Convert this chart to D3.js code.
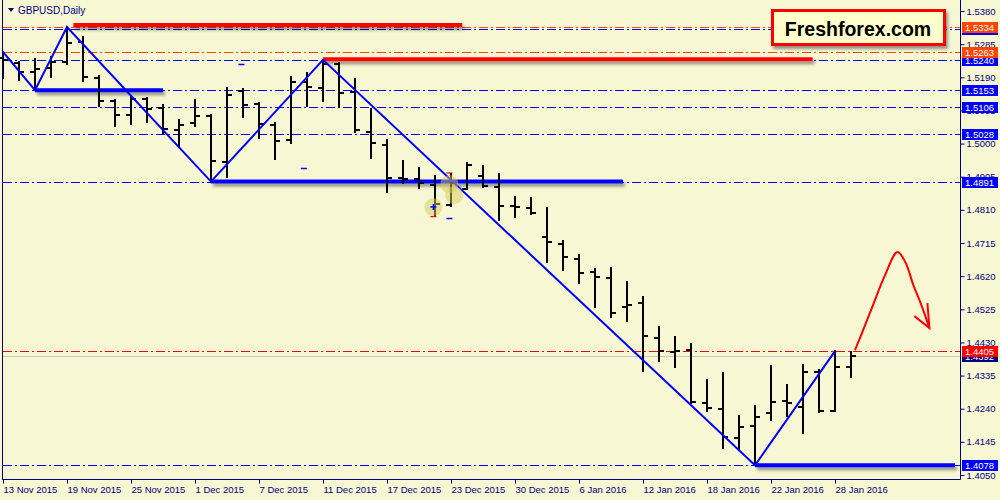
<!DOCTYPE html>
<html><head><meta charset="utf-8">
<script src="https://cdn.jsdelivr.net/npm/d3@7"></script>
<style>
html,body{margin:0;padding:0;background:#f7f7d3;}
svg{display:block;font-family:"Liberation Sans",Arial,sans-serif;}
</style></head><body>
<svg id="c" width="1000" height="500"></svg>
<script>
// ---------- data ----------
const dates = ["2015-11-13","2015-11-16","2015-11-17","2015-11-18","2015-11-19","2015-11-20","2015-11-23","2015-11-24","2015-11-25","2015-11-26","2015-11-27","2015-11-30",
"2015-12-01","2015-12-02","2015-12-03","2015-12-04","2015-12-07","2015-12-08","2015-12-09","2015-12-10","2015-12-11","2015-12-14","2015-12-15","2015-12-16","2015-12-17","2015-12-18","2015-12-21","2015-12-22","2015-12-23","2015-12-24","2015-12-28","2015-12-29","2015-12-30","2015-12-31",
"2016-01-04","2016-01-05","2016-01-06","2016-01-07","2016-01-08","2016-01-11","2016-01-12","2016-01-13","2016-01-14","2016-01-15","2016-01-18","2016-01-19","2016-01-20","2016-01-21","2016-01-22","2016-01-25","2016-01-26","2016-01-27","2016-01-28","2016-01-29"];
const open  = [1.5245,1.5231,1.5205,1.5217,1.5234,1.5291,1.5188,1.5122,1.5082,1.5128,1.5102,1.5039,1.5059,1.5079,1.4947,1.5151,1.5113,1.5053,1.5010,1.5176,1.5159,1.5228,1.5148,1.5033,1.4996,1.4901,1.4898,1.4881,1.4824,1.4870,1.4907,1.4875,1.4821,1.4815,1.4732,1.4712,1.4669,1.4632,1.4615,1.4531,1.4543,1.4442,1.4402,1.4408,1.4256,1.4239,1.4156,1.4190,1.4227,1.4262,1.4245,1.4345,1.4233,1.4359];
const high  = [1.5263,1.5234,1.5242,1.5248,1.5334,1.5305,1.5194,1.5125,1.5136,1.5131,1.5111,1.5068,1.5125,1.5082,1.5159,1.5156,1.5116,1.5059,1.5191,1.5202,1.5240,1.5231,1.5185,1.5099,1.5010,1.4950,1.4930,1.4907,1.4913,1.4944,1.4936,1.4913,1.4847,1.4844,1.4815,1.4721,1.4680,1.4640,1.4643,1.4603,1.4560,1.4474,1.4445,1.4425,1.4322,1.4342,1.4219,1.4248,1.4362,1.4308,1.4365,1.4351,1.4405,1.4402];
const low   = [1.5188,1.5182,1.5153,1.5191,1.5228,1.5179,1.5108,1.5050,1.5056,1.5062,1.5030,1.4990,1.5050,1.4891,1.4904,1.5076,1.5016,1.4956,1.5002,1.5108,1.5122,1.5105,1.5033,1.4959,1.4861,1.4887,1.4873,1.4792,1.4821,1.4870,1.4875,1.4781,1.4789,1.4798,1.4660,1.4637,1.4600,1.4531,1.4503,1.4491,1.4348,1.4377,1.4359,1.4256,1.4233,1.4127,1.4121,1.4078,1.4207,1.4219,1.4170,1.4230,1.4233,1.4331];
const close = [1.5240,1.5205,1.5214,1.5234,1.5288,1.5191,1.5122,1.5082,1.5128,1.5099,1.5042,1.5053,1.5079,1.4950,1.5139,1.5111,1.5056,1.5007,1.5176,1.5162,1.5228,1.5145,1.5039,1.5002,1.4901,1.4898,1.4887,1.4827,1.4887,1.4938,1.4878,1.4821,1.4818,1.4801,1.4718,1.4675,1.4629,1.4617,1.4514,1.4537,1.4448,1.4405,1.4405,1.4259,1.4242,1.4159,1.4187,1.4216,1.4259,1.4256,1.4345,1.4233,1.4359,1.4392];

const yTicks = [1.5380,1.5285,1.5190,1.5095,1.5000,1.4905,1.4810,1.4715,1.4620,1.4525,1.4430,1.4335,1.4240,1.4145,1.4050];
const xTickIdx = [0,4,8,12,16,20,24,28,32,36,40,44,48,52];

// horizontal dash-dot levels
const blueLevels   = [1.5328,1.5240,1.5153,1.5106,1.5028,1.4891,1.4078];
const orangeLevels = [1.5334,1.5263];
const redLevels    = [1.4405];
const bidLevel     = 1.4392;

// zigzag (bar index, price)
const zigIdx   = [0,2,4,13,20,47,52];
const zigPrice = [1.5263,1.5153,1.5334,1.4891,1.5240,1.4078,1.4405];

// thick trend lines: start index, end index, price
const redTrendStart = [4.4,20], redTrendEnd = [28.7,50.6], redTrendPrice = [1.5340,1.5242];
const blueTrendStart = [2,13,47], blueTrendEnd = [10,38.75,59.5], blueTrendPrice = [1.5153,1.4891,1.4078];

// red hand-drawn arrow (bar index, price)
const arrowIdx   = [53.25,53.8,54.4,55.1,55.9,56.4,56.9,57.4,57.9];
const arrowPrice = [1.4408,1.4470,1.4540,1.4620,1.4689,1.4660,1.4594,1.4537,1.4471];

// highlight circles (index, price)
const hlIdx = [26.9,27.9,28.2], hlPrice = [1.4818,1.4884,1.4852];
// small blue dashes (index, price)
const dashIdx = [14.9,18.8,27.9], dashPrice = [1.5228,1.4930,1.4787];

// ---------- drawing ----------
const W = 1000, H = 500;
const svg = d3.select("#c");
const bg = "#f7f7d3";
svg.append("rect").attr("width",W).attr("height",H).attr("fill",bg);

const defs = svg.append("defs");
const f = defs.append("filter").attr("id","sh").attr("filterUnits","userSpaceOnUse")
  .attr("x",0).attr("y",0).attr("width",W).attr("height",H);
f.append("feDropShadow").attr("dx",2).attr("dy",3).attr("stdDeviation",1.8)
  .attr("flood-color","#000").attr("flood-opacity",0.4);

const x = d3.scaleLinear().domain([0,53]).range([3,851]);
const y = d3.scaleLinear().domain([1.4050,1.5380]).range([475,11]);
const plotRight = 960.5, plotBottom = 479.5;

const plot = svg.append("g");
const dashDot = "9,3,2,3";

// levels
function level(p, color){
  plot.append("line").attr("x1",3).attr("x2",plotRight).attr("y1",Math.round(y(p))+0.5).attr("y2",Math.round(y(p))+0.5)
    .attr("stroke",color).attr("stroke-width",1).attr("stroke-dasharray",dashDot);
}
plot.append("line").attr("x1",3).attr("x2",plotRight).attr("y1",Math.round(y(bidLevel))+0.5).attr("y2",Math.round(y(bidLevel))+0.5)
  .attr("stroke","#c8c8c8").attr("stroke-width",1);
blueLevels.forEach(p=>level(p,"#0000ff"));
orangeLevels.forEach(p=>level(p,"#ff4500"));
redLevels.forEach(p=>level(p,"#ff0000"));

// thick trend lines
redTrendStart.forEach((s,i)=>{
  plot.append("line").attr("x1",x(s)).attr("x2",x(redTrendEnd[i])).attr("y1",y(redTrendPrice[i])).attr("y2",y(redTrendPrice[i]))
    .attr("stroke","#ff0000").attr("stroke-width",4).attr("filter","url(#sh)");
});
blueTrendStart.forEach((s,i)=>{
  plot.append("line").attr("x1",x(s)).attr("x2",x(blueTrendEnd[i])).attr("y1",y(blueTrendPrice[i])).attr("y2",y(blueTrendPrice[i]))
    .attr("stroke","#0000ff").attr("stroke-width",4).attr("filter","url(#sh)");
});

// bars
const bars = plot.append("g").attr("stroke","#000").attr("stroke-width",2);
dates.forEach((d,i)=>{
  const cx = x(i);
  bars.append("line").attr("x1",cx).attr("x2",cx).attr("y1",Math.round(y(high[i]))-1).attr("y2",Math.round(y(low[i]))+1);
  bars.append("line").attr("x1",cx-5).attr("x2",cx).attr("y1",Math.round(y(open[i]))).attr("y2",Math.round(y(open[i])));
  bars.append("line").attr("x1",cx).attr("x2",cx+5).attr("y1",Math.round(y(close[i]))).attr("y2",Math.round(y(close[i])));
});

// zigzag
const zz = d3.line().x(d=>x(d[0])).y(d=>y(d[1]));
plot.append("path").attr("d",zz(zigIdx.map((d,i)=>[d,zigPrice[i]])))
  .attr("fill","none").attr("stroke","#0000ff").attr("stroke-width",2);

// highlight circles (on top, translucent)
hlIdx.forEach((d,i)=>{
  plot.append("circle").attr("cx",x(d)).attr("cy",y(hlPrice[i])).attr("r",9)
    .attr("fill","#d6cc60").attr("opacity",0.5);
});
plot.append("path").attr("d",`M${x(26.9)-3},${y(1.4818)}h6M${x(26.9)},${y(1.4818)-3}v6`).attr("stroke","#0000ff").attr("stroke-width",1.5);

// small markers
dashIdx.forEach((d,i)=>{
  plot.append("line").attr("x1",x(d)-3).attr("x2",x(d)+3).attr("y1",Math.round(y(dashPrice[i]))+0.5).attr("y2",Math.round(y(dashPrice[i]))+0.5)
    .attr("stroke","#0000ff").attr("stroke-width",1.5);
});
plot.append("line").attr("x1",x(26.9)-3).attr("x2",x(26.9)+3).attr("y1",y(1.4792)+0.5).attr("y2",y(1.4792)+0.5).attr("stroke","#ff0000").attr("stroke-width",1.2);
plot.append("line").attr("x1",x(27.9)-3).attr("x2",x(27.9)+3).attr("y1",y(1.4913)-1).attr("y2",y(1.4913)-1).attr("stroke","#ff0000").attr("stroke-width",1.2);

// red arrow
const arrowLine = d3.line().x(d=>x(d[0])).y(d=>y(d[1])).curve(d3.curveCatmullRom);
const ap = arrowIdx.map((d,i)=>[d,arrowPrice[i]]);
plot.append("path").attr("d",arrowLine(ap)).attr("fill","none").attr("stroke","#ff0000").attr("stroke-width",2);
const tip = ap[ap.length-1];
const tx = x(tip[0]), ty = y(tip[1]);
plot.append("path").attr("d",`M${tx-2},${ty-25}L${tx},${ty}L${tx-15},${ty-12}`)
  .attr("fill","none").attr("stroke","#ff0000").attr("stroke-width",2);

// frame
svg.append("line").attr("x1",2.5).attr("x2",2.5).attr("y1",0).attr("y2",plotBottom).attr("stroke","#000080");
svg.append("line").attr("x1",plotRight).attr("x2",plotRight).attr("y1",0).attr("y2",plotBottom).attr("stroke","#000080");
svg.append("line").attr("x1",2).attr("x2",plotRight).attr("y1",plotBottom).attr("y2",plotBottom).attr("stroke","#000080");

// right axis
const fontSize = "9.5px";
const ya = svg.append("g").attr("transform",`translate(${plotRight},0)`)
  .call(d3.axisRight(y).tickValues(yTicks).tickSize(4).tickPadding(2).tickFormat(d=>d.toFixed(4)));
ya.select(".domain").remove();
ya.selectAll("line").attr("stroke","#000080");
ya.selectAll("text").attr("fill","#000080").style("font-size",fontSize).style("font-family","Liberation Sans, Arial, sans-serif");

// bottom axis
const fmt = d3.timeFormat("%-d %b %Y"), parse = d3.timeParse("%Y-%m-%d");
const xa = svg.append("g").attr("transform",`translate(0,${plotBottom})`)
  .call(d3.axisBottom(x).tickValues(xTickIdx).tickSize(4).tickPadding(3).tickFormat(i=>fmt(parse(dates[i]))));
xa.select(".domain").remove();
xa.selectAll("line").attr("stroke","#000080");
xa.selectAll("text").attr("fill","#000080").attr("text-anchor","start").attr("x",0)
  .style("font-size",fontSize).style("font-family","Liberation Sans, Arial, sans-serif");

// price labels
function priceLabel(p, color){
  const cy = y(p);
  const g = svg.append("g");
  g.append("rect").attr("x",962).attr("y",Math.round(cy)-5).attr("width",36).attr("height",11).attr("fill",color);
  g.append("text").attr("x",965).attr("y",Math.round(cy)+0.5).attr("dy","0.35em").attr("fill","#fff")
    .style("font-size",fontSize).text(p.toFixed(4));
}
blueLevels.forEach(p=>priceLabel(p,"#0000ff"));
orangeLevels.forEach(p=>priceLabel(p,"#ff4500"));
priceLabel(bidLevel,"#000080");
redLevels.forEach(p=>priceLabel(p,"#ff0000"));

// title
svg.append("path").attr("d","M8,8L14,8L11,12Z").attr("fill","#000080");
svg.append("text").attr("x",18).attr("y",14).attr("fill","#000080").style("font-size","10px").text("GBPUSD,Daily");

// logo
svg.append("rect").attr("x",772.5).attr("y",10.5).attr("width",172).attr("height",34)
  .attr("fill","#ffffcc").attr("stroke","#ff0000").attr("stroke-width",3).attr("filter","url(#sh)");
svg.append("text").attr("x",858).attr("y",36).attr("text-anchor","middle").attr("fill","#000")
  .style("font-size","19.5px").style("font-weight","bold").text("Freshforex.com");
</script>
</body></html>
